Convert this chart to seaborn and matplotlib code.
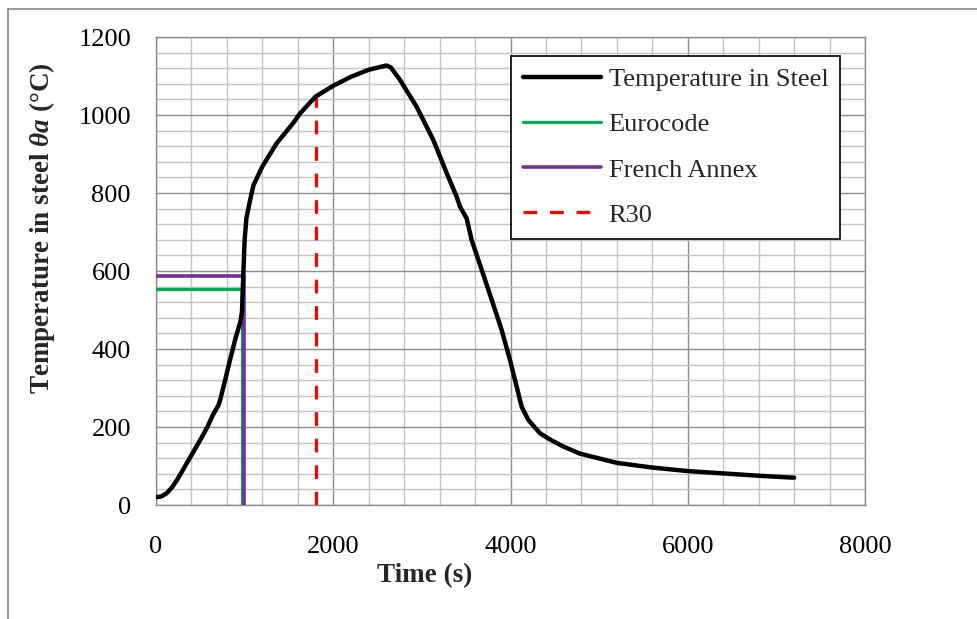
import numpy as np
import pandas as pd
import matplotlib
matplotlib.use("Agg")
import matplotlib.pyplot as plt
from matplotlib.lines import Line2D
from matplotlib.ticker import MultipleLocator
import seaborn as sns

# Steel temperature history (time in s, temperature in °C)
time_s = [0, 60, 120, 180, 240, 390, 500, 580, 640, 705, 725, 780, 835, 900,
          950, 970, 985, 1000, 1020, 1060, 1100, 1200, 1360, 1550, 1625, 1800,
          2000, 2200, 2400, 2600, 2650, 2753, 2941, 3129, 3280, 3393, 3430,
          3505, 3562, 3675, 3788, 3900, 3994, 4070, 4126, 4201, 4333, 4445,
          4596, 4780, 5200, 5600, 6000, 6400, 6800, 7200]
temp_steel = [20, 22, 30, 45, 65, 124, 167, 200, 230, 256, 270, 320, 372, 430,
              468, 495, 590, 680, 735, 780, 820, 868, 927, 980, 1004, 1047,
              1075, 1098, 1116, 1127, 1122, 1090, 1021, 936, 851, 790, 765,
              735, 679, 603, 526, 449, 372, 303, 252, 218, 184, 168,
              150, 132, 108, 96, 87, 81, 75, 70]

# Critical temperature / time limits
eurocode_t = [0, 968, 968]
eurocode_T = [554, 554, 0]
annex_t = [0, 988, 988]
annex_T = [588, 588, 0]
r30_t = [1800, 1800]
r30_T = [0, 1047]

labels = ["Temperature in Steel", "Eurocode", "French Annex", "R30"]
colors = ["#000000", "#00B050", "#7030A0", "#FF0000"]
r30_dashes = (4.3, 4.0)

sns.set_theme(style="white")
plt.rcParams["font.family"] = ["Liberation Serif", "DejaVu Serif"]
plt.rcParams["mathtext.fontset"] = "custom"
plt.rcParams["mathtext.rm"] = "Liberation Serif"
plt.rcParams["mathtext.it"] = "Liberation Serif:italic"
plt.rcParams["mathtext.bf"] = "Liberation Serif:bold"
plt.rcParams["mathtext.bfit"] = "Liberation Serif:bold:italic"

fig = plt.figure(figsize=(9.77, 6.19), dpi=100)
ax = fig.add_axes([156 / 977, 1 - 505 / 619, 709 / 977, 468 / 619])

# Page-style frame around the chart
fig.add_artist(Line2D([8 / 977, 1.0], [1 - 9 / 619, 1 - 9 / 619],
                      transform=fig.transFigure, color="#8f8f8f", lw=1.3))
fig.add_artist(Line2D([8 / 977, 8 / 977], [0, 1 - 9 / 619],
                      transform=fig.transFigure, color="#8f8f8f", lw=1.3))

steel = pd.DataFrame({"t": time_s, "T": temp_steel})
sns.lineplot(data=steel, x="t", y="T", ax=ax, color=colors[0], lw=3.2,
             sort=False, estimator=None, solid_capstyle="round",
             solid_joinstyle="round", zorder=5)
sns.lineplot(x=eurocode_t, y=eurocode_T, ax=ax, color=colors[1], lw=2.3,
             sort=False, estimator=None, zorder=3)
sns.lineplot(x=annex_t, y=annex_T, ax=ax, color=colors[2], lw=2.6,
             sort=False, estimator=None, zorder=4)
ax.plot(r30_t, r30_T, color=colors[3], lw=2.3, dashes=r30_dashes, zorder=4)

ax.set_xlim(0, 8000)
ax.set_ylim(0, 1200)
ax.xaxis.set_major_locator(MultipleLocator(2000))
ax.xaxis.set_minor_locator(MultipleLocator(400))
ax.yaxis.set_major_locator(MultipleLocator(200))
ax.yaxis.set_minor_locator(MultipleLocator(40))
ax.grid(which="major", color="#8c8c8c", lw=1.0)
ax.grid(which="minor", color="#c4c4c4", lw=1.0)
ax.set_axisbelow(True)
for side in ax.spines.values():
    side.set_color("#8c8c8c")
    side.set_linewidth(1.0)
ax.tick_params(which="both", length=0)
ax.tick_params(axis="x", labelsize=19, pad=22, colors="black")
ax.tick_params(axis="y", labelsize=19, pad=18, colors="black")

ax.set_xlabel("Time (s)", fontsize=19.5, fontweight="bold")
ax.set_ylabel(r"Temperature in steel $\mathbfit{\theta a}$ (°C)",
              fontsize=19.5, fontweight="bold")
ax.xaxis.set_label_coords(0.379, -0.124)
ax.yaxis.set_label_coords(-0.14, 0.592)

handles = [Line2D([], [], color=colors[0], lw=3.2, solid_capstyle="round"),
           Line2D([], [], color=colors[1], lw=2.3),
           Line2D([], [], color=colors[2], lw=2.6),
           Line2D([], [], color=colors[3], lw=2.3, dashes=r30_dashes)]
leg = ax.legend(handles, labels, loc="upper left",
                bbox_to_anchor=(511 / 977, 1 - 56 / 619),
                bbox_transform=fig.transFigure, fontsize=19,
                frameon=True, fancybox=False, edgecolor="black",
                framealpha=1, handlelength=2.95, handletextpad=0.3,
                labelspacing=0.82, borderpad=0.45, borderaxespad=0)
leg.get_frame().set_linewidth(1.2)

fig.savefig("out.png", dpi=100, facecolor="white")
